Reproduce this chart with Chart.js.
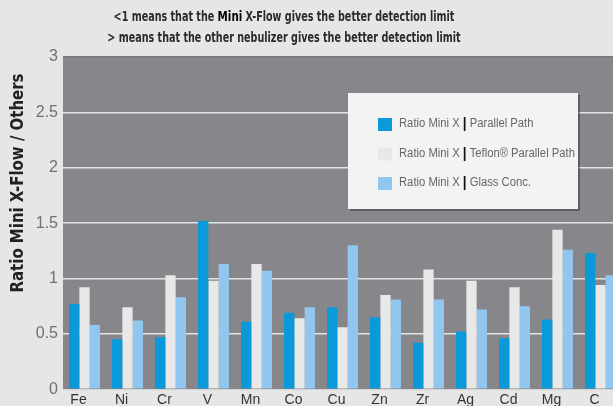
<!DOCTYPE html>
<html>
<head>
<meta charset="utf-8">
<script src="https://cdn.jsdelivr.net/npm/chart.js@4/dist/chart.umd.min.js"></script>
<style>
  html, body { margin: 0; padding: 0; background: #e6e6e6; width: 613px; height: 406px; overflow: hidden; }
  #wrap { position: relative; width: 613px; height: 406px; overflow: hidden; }
  #chart-box { position: absolute; left: 0; top: 0; width: 626px; height: 412px; }
  .head { position: absolute; left: 0; width: 568px; text-align: center; white-space: nowrap;
          font-family: "DejaVu Sans Condensed", "Liberation Sans", sans-serif; font-weight: bold; font-size: 13.5px;
          color: #2a2a2a; transform: scaleX(0.79); transform-origin: 284px 0; }
  .head b { color: #000; font-size: 14.5px; }
</style>
</head>
<body>
<div id="wrap">
  <div id="chart-box"><canvas id="ratioChart"></canvas></div>
  <div class="head" style="top:8px">&lt;1 means that the <b>Mini</b> X-Flow gives the better detection limit</div>
  <div class="head" style="top:29px">&gt; means that the other nebulizer gives the better detection limit</div>
</div>
<script>
// Elements measured
const elements = ["Fe", "Ni", "Cr", "V", "Mn", "Co", "Cu", "Zn", "Zr", "Ag", "Cd", "Mg", "C"];

// Ratio Mini X-Flow / other nebulizer
const parallelPath = [0.77, 0.45, 0.47, 1.52, 0.61, 0.69, 0.74, 0.65, 0.42, 0.52, 0.46, 0.63, 1.23];
const teflonParallelPath = [0.92, 0.74, 1.03, 0.98, 1.13, 0.64, 0.56, 0.85, 1.08, 0.98, 0.92, 1.44, 0.94];
const glassConc = [0.58, 0.62, 0.83, 1.13, 1.07, 0.74, 1.30, 0.81, 0.81, 0.72, 0.75, 1.26, 1.03];

const yTicks = [0, 0.5, 1, 1.5, 2, 2.5, 3];
const yTitle = "Ratio Mini X-Flow / Others";

const condensed = '"DejaVu Sans Condensed", "Liberation Sans", sans-serif';
const plain = '"Liberation Sans", Arial, sans-serif';

// grey plot background
const plotBackground = {
    id: "plotBackground",
    beforeDraw(chart) {
        const { ctx, chartArea } = chart;
        ctx.save();
        ctx.fillStyle = "#87878b";
        ctx.fillRect(chartArea.left, chartArea.top, chartArea.right - chartArea.left, chartArea.bottom - chartArea.top);
        ctx.restore();
    }
};

// y axis title sits a bit above the middle in the original
const sideTitle = {
    id: "sideTitle",
    afterDraw(chart) {
        const { ctx } = chart;
        ctx.save();
        ctx.translate(18, 183);
        ctx.rotate(-Math.PI / 2);
        ctx.font = "bold 17.5px " + condensed;
        ctx.fillStyle = "#222";
        ctx.textAlign = "center";
        ctx.textBaseline = "middle";
        ctx.scale(0.95, 1);
        ctx.fillText(yTitle, 0, 0);
        ctx.restore();
    }
};

// draws a piece of text squeezed a little, returns its width
function narrowText(ctx, str, x, y, font, color) {
    const squeeze = 0.9;
    ctx.save();
    ctx.font = font;
    ctx.fillStyle = color;
    ctx.translate(x, y);
    ctx.scale(squeeze, 1);
    ctx.fillText(str, 0, 0);
    const w = ctx.measureText(str).width * squeeze;
    ctx.restore();
    return w;
}

// white legend box sitting inside the plot
const boxLegend = {
    id: "boxLegend",
    afterDraw(chart) {
        const { ctx } = chart;
        const x = 348, y = 93, w = 230, h = 116;
        ctx.save();
        ctx.fillStyle = "rgba(60,60,60,0.55)";
        ctx.fillRect(x + 2, y + 2, w, h);
        ctx.fillStyle = "#f3f3f3";
        ctx.fillRect(x, y, w, h);
        ctx.textBaseline = "middle";
        chart.data.datasets.forEach((ds, i) => {
            const rowY = y + 31 + i * 29.5;
            ctx.fillStyle = ds.backgroundColor;
            ctx.fillRect(x + 30, rowY - 6, 14, 13);
            const parts = ds.label.split("|");
            let tx = x + 51;
            tx += narrowText(ctx, parts[0], tx, rowY, "12.5px " + plain, "#666");
            tx += narrowText(ctx, "|", tx, rowY, "bold 15px " + plain, "#111");
            narrowText(ctx, parts[1], tx, rowY, "12.5px " + plain, "#666");
        });
        ctx.restore();
    }
};

const ctx = document.getElementById("ratioChart").getContext("2d");
new Chart(ctx, {
    type: "bar",
    data: {
        labels: elements,
        datasets: [
            { label: "Ratio Mini X | Parallel Path", data: parallelPath, backgroundColor: "#0a9ad9" },
            { label: "Ratio Mini X | Teflon\u00ae Parallel Path", data: teflonParallelPath, backgroundColor: "#e8e8e8" },
            { label: "Ratio Mini X | Glass Conc.", data: glassConc, backgroundColor: "#91c6ee" }
        ]
    },
    options: {
        responsive: true,
        maintainAspectRatio: false,
        animation: false,
        layout: { padding: { top: 57, right: 4, bottom: 0, left: 0 } },
        datasets: { bar: { categoryPercentage: 0.72, barPercentage: 1 } },
        plugins: {
            legend: { display: false },
            tooltip: { enabled: false }
        },
        scales: {
            x: {
                grid: { display: false, drawTicks: false },
                border: { display: false },
                ticks: { color: "#333", font: { family: plain, size: 14 }, padding: 3, labelOffset: -6 }
            },
            y: {
                min: 0,
                max: 3,
                afterFit(scale) { scale.width = 63; },
                afterBuildTicks(scale) { scale.ticks = yTicks.map(v => ({ value: v })); },
                grid: {
                    drawTicks: false,
                    lineWidth: 1.5,
                    color: c => c.tick.value === 0 ? "rgba(0,0,0,0)" : (c.tick.value === 3 ? "#77777b" : "#e4e4e4")
                },
                border: { display: false },
                ticks: {
                    color: "#707070",
                    font: { family: plain, size: 16 },
                    padding: 5,
                    callback: v => String(v)
                }
            }
        }
    },
    plugins: [plotBackground, sideTitle, boxLegend]
});
</script>
</body>
</html>
